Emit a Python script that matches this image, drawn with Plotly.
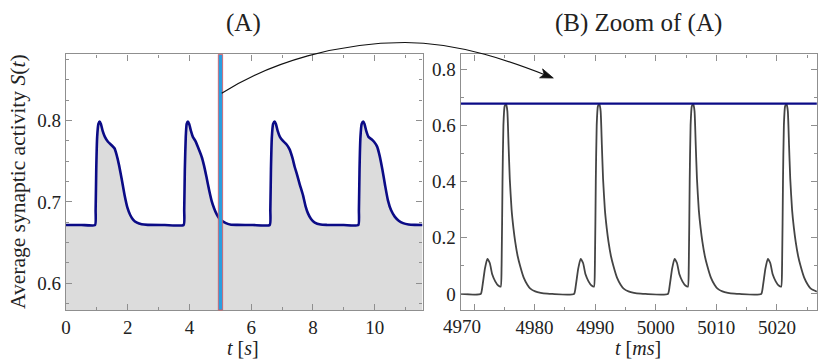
import plotly.graph_objects as go

# ---------------- data ----------------
# Panel A: average synaptic activity S(t), t in seconds
tA = [0.0, 0.5, 0.94, 0.96, 0.98, 1.01, 1.05, 1.09, 1.13, 1.19, 1.26, 1.36, 1.47, 1.57, 1.64, 1.72,
      1.81, 1.90, 1.99, 2.08, 2.18, 2.30, 2.45, 2.65,
      3.20, 3.81, 3.83, 3.85, 3.88, 3.91, 3.95, 3.99, 4.05, 4.11, 4.19, 4.30, 4.40, 4.47, 4.55, 4.64,
      4.72, 4.80, 4.88, 4.96, 5.05, 5.18, 5.35, 5.55,
      6.05, 6.60, 6.62, 6.64, 6.67, 6.71, 6.76, 6.80, 6.86, 6.93, 7.03, 7.14, 7.24, 7.33, 7.41, 7.49,
      7.57, 7.68, 7.76, 7.84, 7.94, 8.06, 8.25, 8.45,
      9.00, 9.47, 9.49, 9.51, 9.54, 9.58, 9.63, 9.67, 9.73, 9.80, 9.90, 9.98, 10.08, 10.16, 10.25,
      10.34, 10.43, 10.53, 10.65, 10.78, 10.92, 11.10, 11.30, 11.55]
SA = [0.6717, 0.6717, 0.6717, 0.690, 0.740, 0.780, 0.796, 0.799, 0.796, 0.787, 0.780, 0.774, 0.770,
      0.766, 0.758, 0.745, 0.727, 0.708, 0.693, 0.684, 0.678, 0.6745, 0.6725, 0.6718,
      0.6717, 0.6717, 0.690, 0.740, 0.780, 0.796, 0.799, 0.796, 0.787, 0.780, 0.775, 0.765, 0.755,
      0.745, 0.731, 0.714, 0.701, 0.692, 0.685, 0.680, 0.677, 0.674, 0.672, 0.6718,
      0.6717, 0.6717, 0.690, 0.740, 0.780, 0.796, 0.799, 0.796, 0.787, 0.780, 0.775, 0.771, 0.765,
      0.755, 0.743, 0.733, 0.722, 0.708, 0.695, 0.686, 0.679, 0.6745, 0.6722, 0.6718,
      0.6717, 0.6717, 0.690, 0.740, 0.780, 0.796, 0.799, 0.796, 0.787, 0.780, 0.777, 0.774, 0.768,
      0.757, 0.740, 0.720, 0.702, 0.690, 0.682, 0.677, 0.674, 0.6723, 0.6718, 0.6717]

# Marker of the zoomed window (t = 5 s)
zoom_t = 5.0

# Panel B: zoom, t in ms
tB = [4967.8,
      4971.1, 4971.4, 4971.8, 4972.2, 4972.6, 4973.0, 4973.5, 4974.0, 4974.4, 4974.55, 4974.7, 4974.85,
      4975.05, 4975.3, 4975.5, 4975.7, 4975.9, 4976.2, 4976.5, 4976.8, 4977.2, 4977.6, 4978.2, 4978.8,
      4979.3, 4980.1, 4981.0, 4982.1, 4982.9,
      4986.5, 4986.8, 4987.2, 4987.6, 4988.0, 4988.4, 4988.9, 4989.4, 4989.8, 4989.95, 4990.1, 4990.25,
      4990.45, 4990.7, 4990.9, 4991.1, 4991.3, 4991.6, 4991.9, 4992.2, 4992.6, 4993.0, 4993.6, 4994.2,
      4994.7, 4995.5, 4996.4, 4997.5, 4998.3,
      5002.0, 5002.3, 5002.7, 5003.1, 5003.5, 5003.9, 5004.4, 5004.9, 5005.3, 5005.45, 5005.6, 5005.75,
      5005.95, 5006.2, 5006.4, 5006.6, 5006.8, 5007.1, 5007.4, 5007.7, 5008.1, 5008.5, 5009.1, 5009.7,
      5010.2, 5011.0, 5011.9, 5013.0, 5013.8,
      5017.4, 5017.7, 5018.1, 5018.5, 5018.9, 5019.3, 5019.8, 5020.3, 5020.7, 5020.85, 5021.0, 5021.15,
      5021.35, 5021.6, 5021.8, 5022.0, 5022.2, 5022.5, 5022.8, 5023.1, 5023.5, 5023.9, 5024.5, 5025.1,
      5025.6, 5026.6]
SB = [0.0,
      0.0, 0.03, 0.09, 0.125, 0.11, 0.07, 0.045, 0.03, 0.026, 0.10, 0.40, 0.60,
      0.668, 0.676, 0.65, 0.53, 0.41, 0.30, 0.235, 0.185, 0.135, 0.10, 0.058, 0.033,
      0.019, 0.009, 0.004, 0.001, 0.0,
      0.0, 0.03, 0.09, 0.125, 0.11, 0.07, 0.045, 0.03, 0.026, 0.10, 0.40, 0.60,
      0.668, 0.676, 0.65, 0.53, 0.41, 0.30, 0.235, 0.185, 0.135, 0.10, 0.058, 0.033,
      0.019, 0.009, 0.004, 0.001, 0.0,
      0.0, 0.03, 0.09, 0.125, 0.11, 0.07, 0.045, 0.03, 0.026, 0.10, 0.40, 0.60,
      0.668, 0.676, 0.65, 0.53, 0.41, 0.30, 0.235, 0.185, 0.135, 0.10, 0.058, 0.033,
      0.019, 0.009, 0.004, 0.001, 0.0,
      0.0, 0.03, 0.09, 0.125, 0.11, 0.07, 0.045, 0.03, 0.026, 0.10, 0.40, 0.60,
      0.668, 0.676, 0.65, 0.53, 0.41, 0.30, 0.235, 0.185, 0.135, 0.10, 0.058, 0.033,
      0.019, 0.008]
tB_avg = [4967.8, 4985.0, 5000.0, 5015.0, 5026.6]
SB_avg = [0.677, 0.677, 0.677, 0.677, 0.677]

xA_ticks = [0, 2, 4, 6, 8, 10]
yA_ticks = [0.6, 0.7, 0.8]
xB_ticks = [4970, 4980, 4990, 5000, 5010, 5020]
xB_labels = ["", "4980", "4990", "5000", "5010", "5020"]
yB_ticks = [0, 0.2, 0.4, 0.6, 0.8]

# ---------------- figure ----------------
W, H = 830, 361
FONT = "Liberation Serif"
NAVY = "#0b0b86"
FRAME = "#8f8f8f"


def px(x):
    return x / W


def py(y):
    return 1 - y / H


fig = go.Figure()
fig.add_trace(go.Scatter(x=tA, y=SA, mode="lines", fill="tozeroy", fillcolor="#dcdcdc",
                         line=dict(color=NAVY, width=2.6, shape="spline", smoothing=0.5),
                         xaxis="x", yaxis="y", showlegend=False, hoverinfo="skip"))
fig.add_trace(go.Scatter(x=tB, y=SB, mode="lines",
                         line=dict(color="#444444", width=1.8, shape="spline", smoothing=0.5),
                         xaxis="x2", yaxis="y2", showlegend=False, hoverinfo="skip"))
fig.add_trace(go.Scatter(x=tB_avg, y=SB_avg, mode="lines",
                         line=dict(color=NAVY, width=2.4),
                         xaxis="x2", yaxis="y2", showlegend=False, hoverinfo="skip"))

axis_common = dict(showline=True, linecolor=FRAME, linewidth=1.2, mirror="ticks",
                   ticks="inside", ticklen=6, tickwidth=1, tickcolor=FRAME,
                   showgrid=False, zeroline=False, automargin=False,
                   tickfont=dict(family=FONT, size=19, color="#222222"))

domA = [px(66), px(422.5)]
domB = [px(460.7), px(816.9)]
domY = [py(310), py(54.4)]

fig.update_layout(
    template="none",
    width=W, height=H, margin=dict(l=0, r=0, t=0, b=0, autoexpand=False),
    paper_bgcolor="white", plot_bgcolor="white",
    xaxis=dict(domain=domA, range=[0, 11.55], tickvals=xA_ticks, anchor="y",
               minor=dict(dtick=1, ticklen=3, ticks="inside", tickcolor=FRAME), **axis_common),
    yaxis=dict(domain=domY, range=[0.5672, 0.8814], tickvals=yA_ticks, anchor="x",
               minor=dict(dtick=0.025, tick0=0.6, ticklen=3, ticks="inside", tickcolor=FRAME),
               **axis_common),
    xaxis2=dict(domain=domB, range=[4967.8, 5026.6], tickvals=xB_ticks, ticktext=xB_labels,
                anchor="y2",
                minor=dict(dtick=5, tick0=4970, ticklen=3, ticks="inside", tickcolor=FRAME),
                **axis_common),
    yaxis2=dict(domain=domY, range=[-0.057, 0.852], tickvals=yB_ticks, anchor="x2",
                minor=dict(dtick=0.1, ticklen=3, ticks="inside", tickcolor=FRAME), **axis_common),
)

# vertical marker at the zoomed time
fig.add_shape(type="rect", xref="x", yref="y domain", x0=zoom_t - 0.065, x1=zoom_t + 0.075,
              y0=0, y1=1, fillcolor="#2a9ee0", line=dict(color="#e2545c", width=0.8), layer="above")


# curved arrow from (A) to (B)
def P(x, y):
    return f"{px(x):.5f},{py(y):.5f}"


path = ("M " + P(221.7, 93.3) + " C " + P(271.7, 61.3) + " " + P(340, 42.5) + " " + P(405, 42.5)
        + " C " + P(460, 42.5) + " " + P(515, 63) + " " + P(546, 75.2))
fig.add_shape(type="path", xref="paper", yref="paper", path=path,
              line=dict(color="#111111", width=1.2))
head = ("M " + P(553.3, 78) + " L " + P(539.6, 77.8) + " L " + P(544.2, 74.4) + " L "
        + P(542.6, 68.9) + " Z")
fig.add_shape(type="path", xref="paper", yref="paper", path=head,
              fillcolor="#111111", line=dict(color="#111111", width=0.8))

ann = []
ann.append(dict(x=px(243), y=py(23), text="(A)", font=dict(size=25)))
ann.append(dict(x=px(638), y=py(23), text="(B) Zoom of (A)", font=dict(size=25)))
ann.append(dict(x=px(243), y=py(348), text="<i>t</i> [<i>s</i>]", font=dict(size=20)))
ann.append(dict(x=px(638), y=py(348), text="<i>t</i> [<i>ms</i>]", font=dict(size=20)))
ann.append(dict(x=px(18), y=py(182), text="Average synaptic activity <i>S</i>(<i>t</i>)",
                font=dict(size=21.5), textangle=-90))
ann.append(dict(x=px(461.7), y=py(326), text="4970", font=dict(size=19)))
for a in ann:
    a.update(xref="paper", yref="paper", showarrow=False, xanchor="center", yanchor="middle")
    a["font"].update(family=FONT, color="#222222")
fig.update_layout(annotations=ann)

fig.write_html("out.html", config={"displayModeBar": False},
               post_script="document.body.style.margin='0';document.body.style.padding='0';")
